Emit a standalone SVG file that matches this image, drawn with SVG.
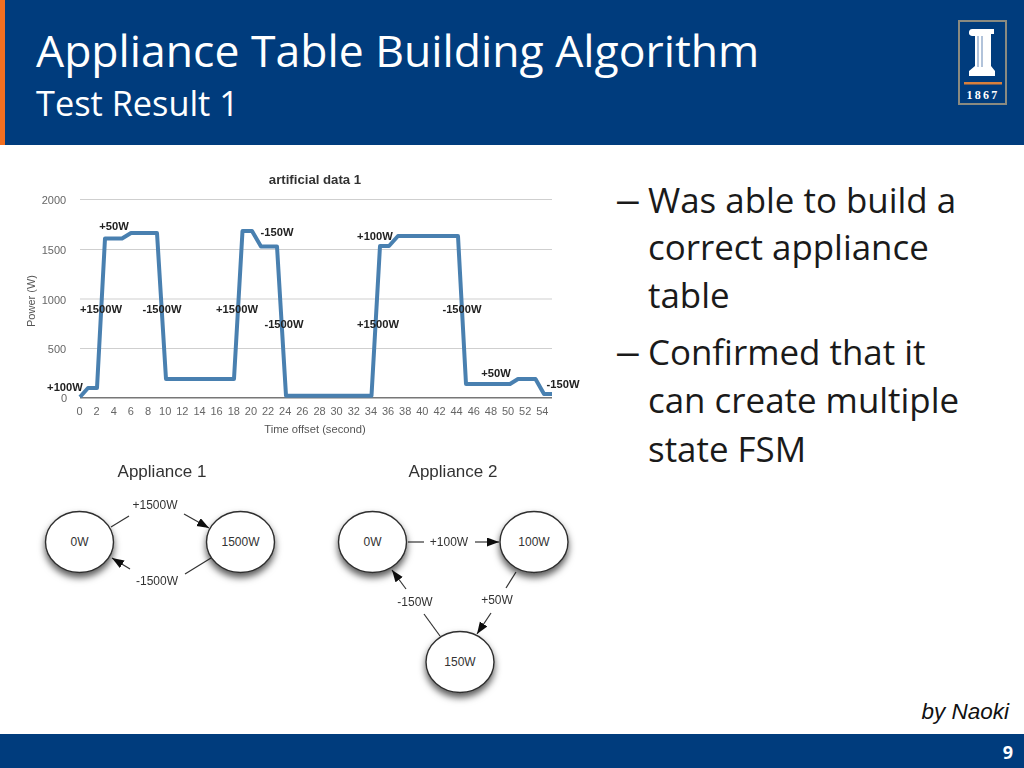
<svg xmlns="http://www.w3.org/2000/svg" width="1024" height="768" viewBox="0 0 1024 768">
<style>
.h{font-family:"Open Sans","Noto Sans",sans-serif;fill:#fff}
.b{font-family:"Open Sans","Noto Sans",sans-serif;fill:#1a1a1a;font-size:34.9px}
.d{font-family:"Liberation Sans",Arial,sans-serif;fill:#1a1a1a;font-size:39px}
.a{font-family:"Liberation Sans",Arial,sans-serif}
.tick{font-size:11px;fill:#666;text-anchor:middle}
.ann{font-size:11.200px;font-weight:bold;fill:#222;text-anchor:middle}
.grid{stroke:#cfcfcf;stroke-width:1;fill:none}
.lab{font-size:12px;fill:#333;text-anchor:middle}
.ttl{font-size:17px;fill:#333;text-anchor:middle}
.node ellipse{fill:#fff;stroke:#2e2e2e;stroke-width:1.400;filter:url(#sh)}
.conn line{stroke:#333;stroke-width:1.200}
.conn .ar{marker-end:url(#arrow)}
</style>
<defs>
<filter id="sh" x="-30%" y="-30%" width="160%" height="170%"><feDropShadow dx="0" dy="4.500" stdDeviation="3.500" flood-color="#000" flood-opacity="0.65"/></filter>
<filter id="soft" x="-2%" y="-2%" width="104%" height="104%"><feGaussianBlur stdDeviation="0.35"/></filter>
<marker id="arrow" markerUnits="userSpaceOnUse" markerWidth="13" markerHeight="11" refX="12" refY="4.500" orient="auto"><path d="M0 0L12 4.500L0 9Z" fill="#111"/></marker>
</defs>
<rect width="1024" height="768" fill="#fff"/>
<g id="header">
<rect width="1024" height="145" fill="#003c7d"/>
<rect width="5" height="145" fill="#f26f21"/>
<text class="h" x="36" y="67" font-size="44.500px">Appliance Table Building Algorithm</text>
<text class="h" x="36" y="116" font-size="34.300px">Test Result 1</text>
</g>
<g id="logo">
<rect x="959" y="21" width="47" height="83" fill="none" stroke="#8a8a80" stroke-width="2"/>
<path d="M973 29H994V34H991V66L995 71V76H969V71L975 66V36H972A3.500 3.500 0 1 1 973 29Z" fill="#fff"/>
<path d="M978 36V67M982 36V67" stroke="#7f9cc2" stroke-width="1.200"/>
<rect x="964" y="82" width="38" height="2.500" fill="#d9803c"/>
<text x="983" y="98.500" font-size="12px" font-weight="bold" fill="#fff" text-anchor="middle" letter-spacing="2.200" style="font-family:'Liberation Serif',serif">1867</text>
</g>
<g id="chart" filter="url(#soft)">
<text class="a" x="315" y="184" font-size="13.200px" font-weight="bold" fill="#333" text-anchor="middle">artificial data 1</text>
<path class="grid" d="M80 199.500H552M80 249.500H552M80 299H552M80 348.500H552"/>
<path d="M80 397.700H552" stroke="#777" stroke-width="1.500"/>
<g class="a tick">
<text x="54" y="204">2000</text><text x="54" y="254">1500</text><text x="54" y="304">1000</text><text x="57" y="353">500</text><text x="64" y="402">0</text>
<text x="79.500" y="415">0</text><text x="96.600" y="415">2</text><text x="113.800" y="415">4</text><text x="130.900" y="415">6</text><text x="148" y="415">8</text><text x="165.200" y="415">10</text><text x="182.300" y="415">12</text><text x="199.500" y="415">14</text><text x="216.600" y="415">16</text><text x="233.800" y="415">18</text><text x="250.900" y="415">20</text><text x="268" y="415">22</text><text x="285.200" y="415">24</text><text x="302.300" y="415">26</text><text x="319.500" y="415">28</text><text x="336.600" y="415">30</text><text x="353.800" y="415">32</text><text x="370.900" y="415">34</text><text x="388" y="415">36</text><text x="405.200" y="415">38</text><text x="422.300" y="415">40</text><text x="439.500" y="415">42</text><text x="456.600" y="415">44</text><text x="473.800" y="415">46</text><text x="490.900" y="415">48</text><text x="508" y="415">50</text><text x="525.200" y="415">52</text><text x="542.300" y="415">54</text>
</g>
<text class="a" x="315" y="433" font-size="11.200px" fill="#555" text-anchor="middle">Time offset (second)</text>
<text class="a" transform="translate(35 301) rotate(-90)" font-size="11px" fill="#555" text-anchor="middle">Power (W)</text>
<polyline fill="none" stroke="#4a80b0" stroke-width="4" stroke-linejoin="round" points="80,397 88,388 97,388 105,238.500 122,238.500 131,233 157,233 166,379 234,379 242.500,231 252,231 261,246.500 277,246.500 286,395.700 371.500,395.700 380,246 389,246 398,236 458,236 466,384 510,384 518,379 535.500,379 544,394 552,394"/>
<g class="a ann">
<text x="114" y="230">+50W</text><text x="101" y="313">+1500W</text><text x="162" y="313">-1500W</text><text x="237" y="313">+1500W</text><text x="277" y="236">-150W</text><text x="284" y="328">-1500W</text><text x="65" y="391">+100W</text><text x="375" y="240">+100W</text><text x="378" y="328">+1500W</text><text x="462" y="313">-1500W</text><text x="496" y="377">+50W</text><text x="563" y="388">-150W</text>
</g>
</g>
<g id="connectors" class="conn" filter="url(#soft)">
<line x1="111" y1="527" x2="129" y2="516"/>
<line class="ar" x1="184" y1="514" x2="209" y2="528"/>
<line x1="211" y1="558" x2="185" y2="574"/>
<line class="ar" x1="130" y1="569" x2="112" y2="558"/>
<line x1="408" y1="542" x2="424" y2="542"/>
<line class="ar" x1="475" y1="542" x2="499" y2="542"/>
<line x1="516" y1="572" x2="506" y2="588"/>
<line class="ar" x1="491" y1="613" x2="477" y2="634"/>
<line x1="440" y1="636" x2="424" y2="614"/>
<line class="ar" x1="406" y1="589" x2="392" y2="570"/>
</g>
<g id="appliance1-title" class="a ttl"><text x="162" y="477" filter="url(#soft)">Appliance 1</text></g>
<g id="appliance2-title" class="a ttl"><text x="453" y="477" filter="url(#soft)">Appliance 2</text></g>
<g id="edge-labels" class="a lab" filter="url(#soft)">
<text x="155" y="509">+1500W</text><text x="157" y="585">-1500W</text><text x="449" y="546">+100W</text><text x="415" y="606">-150W</text><text x="497" y="604">+50W</text>
</g>
<g id="n1-0w" class="node"><ellipse cx="79.500" cy="542" rx="34" ry="30.500"/><text class="a lab" x="79.500" y="546">0W</text></g>
<g id="n1-1500w" class="node"><ellipse cx="240.500" cy="542" rx="34" ry="30.500"/><text class="a lab" x="240.500" y="546">1500W</text></g>
<g id="n2-0w" class="node"><ellipse cx="372.500" cy="542" rx="34" ry="30.500"/><text class="a lab" x="372.500" y="546">0W</text></g>
<g id="n2-100w" class="node"><ellipse cx="534" cy="542" rx="34" ry="30.500"/><text class="a lab" x="534" y="546">100W</text></g>
<g id="n2-150w" class="node"><ellipse cx="460" cy="662" rx="34" ry="30.500"/><text class="a lab" x="460" y="666">150W</text></g>
<g id="bullets">
<text class="d" x="617" y="213">–</text><text class="b" x="648" y="213">Was able to build a</text>
<text class="b" x="648" y="260">correct appliance</text>
<text class="b" x="648" y="308">table</text>
<text class="d" x="617" y="365">–</text><text class="b" x="648" y="365">Confirmed that it</text>
<text class="b" x="648" y="413">can create multiple</text>
<text class="b" x="648" y="462">state FSM</text>
</g>
<text id="credit" class="a" x="1009" y="719" font-size="22.500px" font-style="italic" fill="#111" text-anchor="end">by Naoki</text>
<g id="footer">
<rect y="734" width="1024" height="34" fill="#003c7d"/>
<text class="h" x="1008" y="759" font-size="18px" font-weight="bold" text-anchor="middle">9</text>
</g>
</svg>
